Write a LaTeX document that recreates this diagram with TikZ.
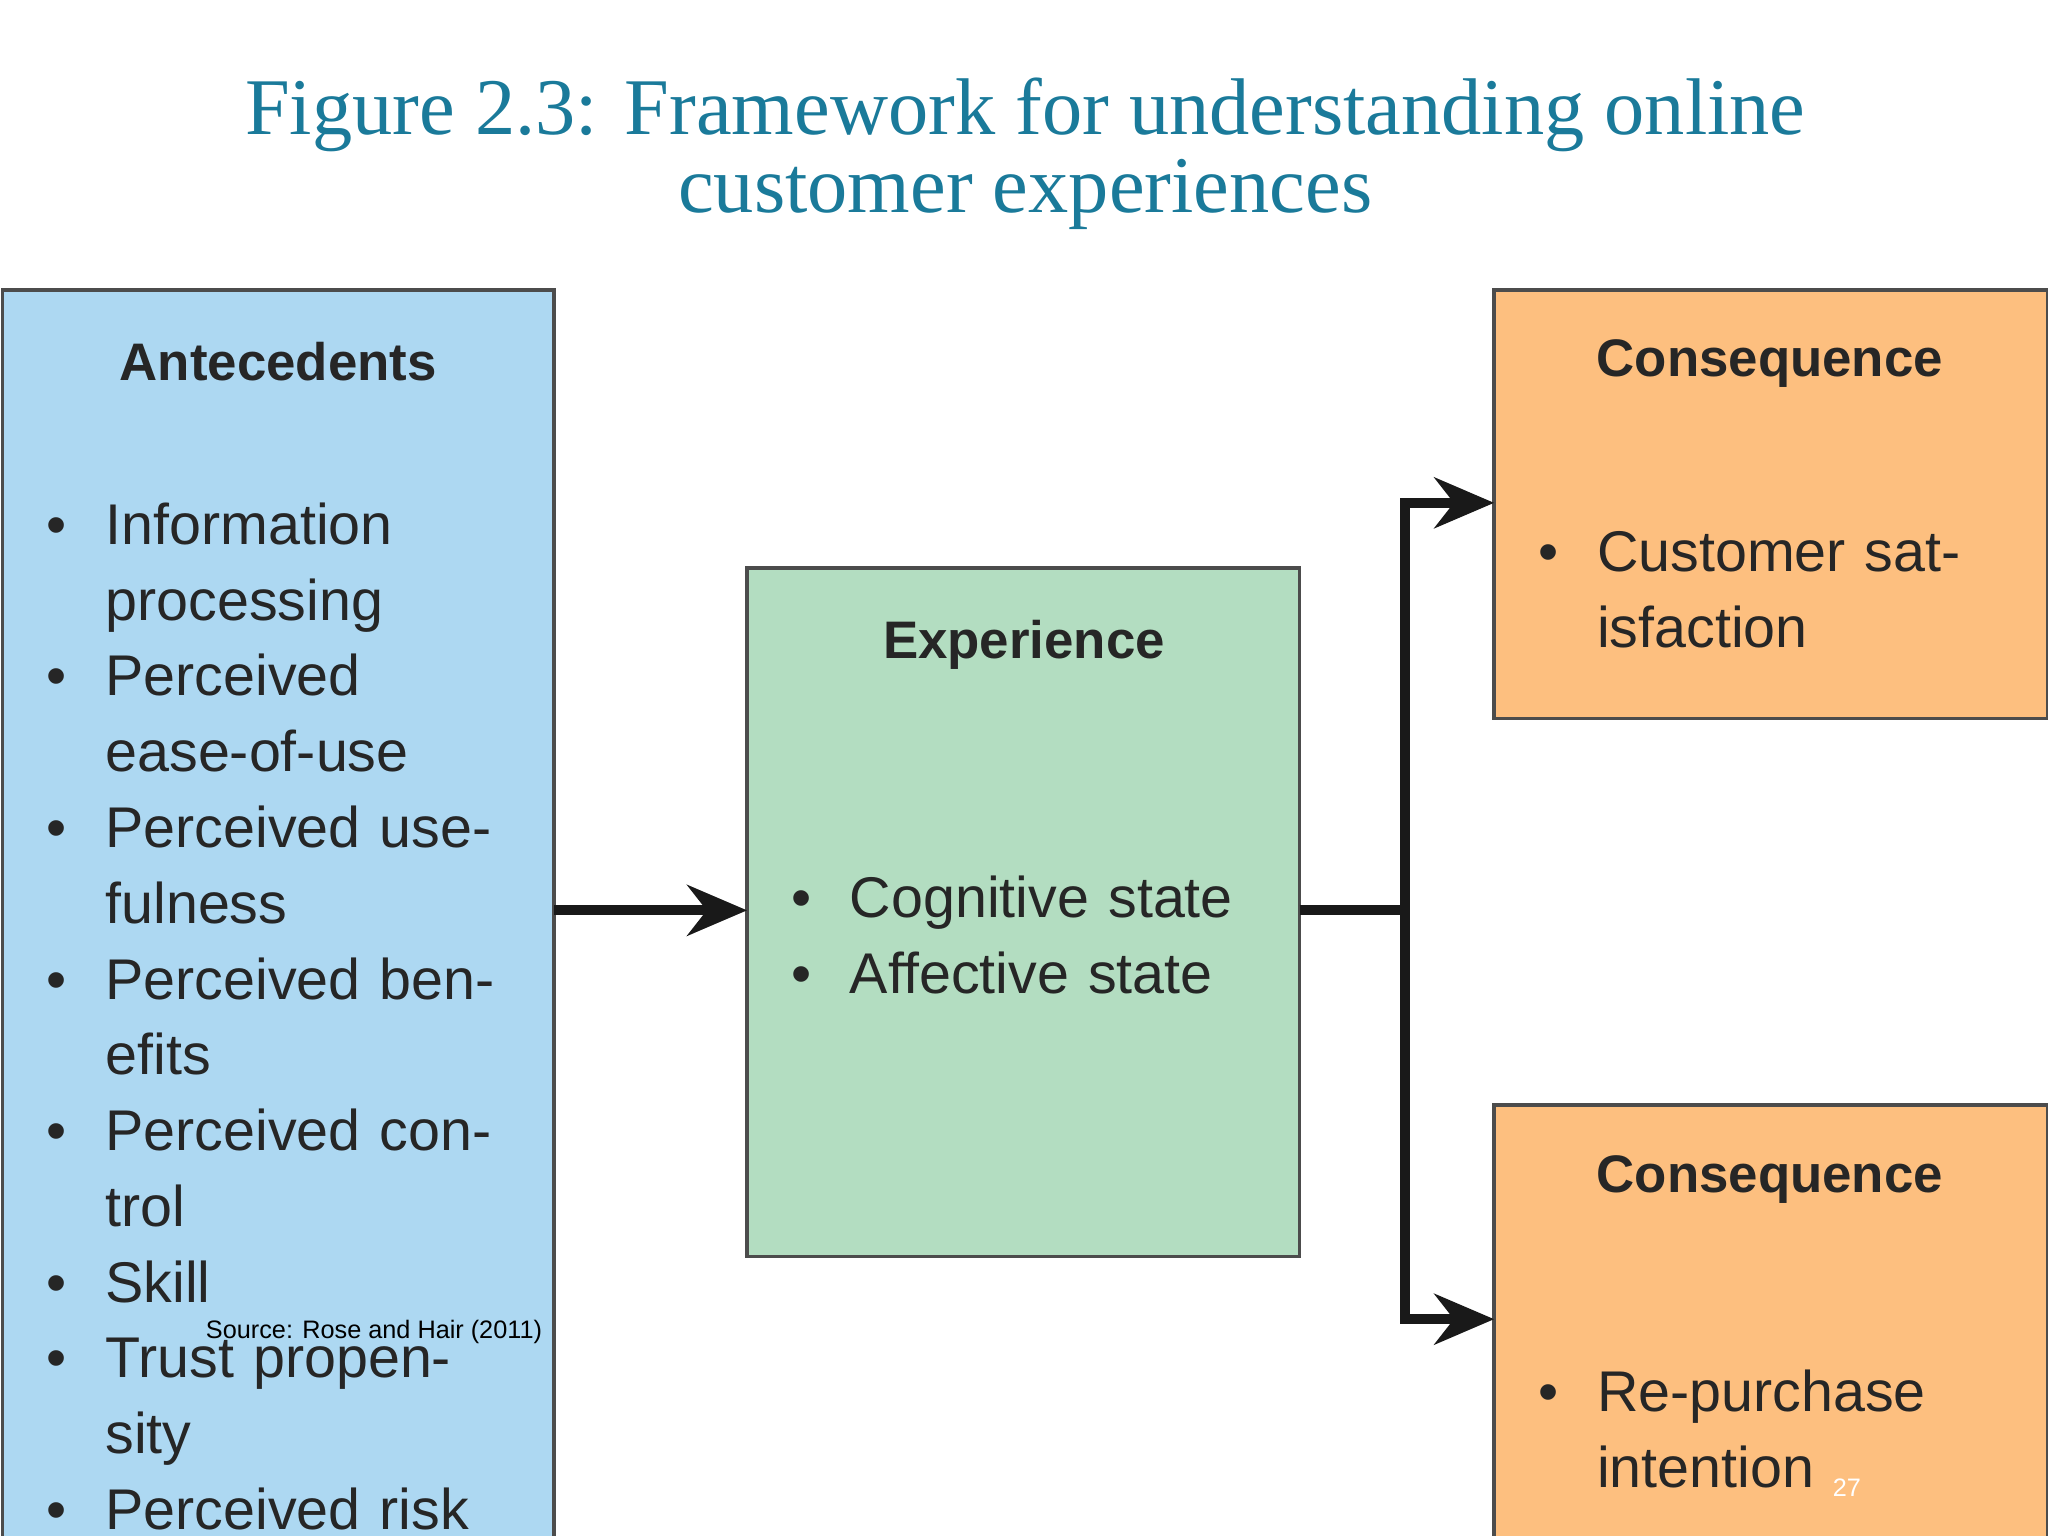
\documentclass[tikz,border=0pt]{standalone}
\usepackage{fontspec}
\setmainfont{Liberation Serif}
\newfontfamily\boxfont{Liberation Sans}
\usetikzlibrary{arrows.meta}
\definecolor{titleteal}{HTML}{1A7A9A}
\definecolor{antblue}{HTML}{ADD8F2}
\definecolor{expgreen}{HTML}{B3DDC1}
\definecolor{conorange}{HTML}{FDBF7F}
\newcommand{\bl}[1]{\par\noindent\hangindent=0.8cm\hangafter=1\makebox[0.8cm][l]{\hspace{0.35cm}\textbullet}#1\par}
\tikzset{
  panel/.style={draw=black!70, line width=0.8pt},
  head/.style={font=\boxfont\bfseries\fontsize{11.5}{14}\selectfont, text=black!85},
  items/.style={anchor=north west, inner sep=0pt, text=black!85,
    font=\boxfont\fontsize{12.5}{16.5}\selectfont, align=left},
  flow/.style={line width=2.2pt, black!90},
  tip/.style={-{Stealth[length=13pt,width=11pt]}}
}
\begin{document}
\begin{tikzpicture}[x=0.01cm,y=-0.01cm]
\useasboundingbox (0,0) rectangle (1568,1176);
% title
\node[text=titleteal, font=\fontsize{17.5}{17}\selectfont, align=center] (title) at (785,118)
  {Figure 2.3: Framework for understanding online\\customer experiences};
% boxes
\fill[antblue] (2,222) rectangle (424,1176);
\draw[black!70, line width=0.8pt] (2,1176) -- (2,222) -- (424,222) -- (424,1176);
\draw[panel, fill=expgreen] (572,435) rectangle (995,962);
\draw[panel, fill=conorange] (1144,222) rectangle (1568,550);
\draw[panel, fill=conorange] (1144,846) rectangle (1568,1180);
\coordinate (antE) at (424,697);
\coordinate (expW) at (572,697);
\coordinate (expE) at (995,697);
\coordinate (split) at (1076,697);
\coordinate (conA) at (1144,385);
\coordinate (conB) at (1144,1010);
% headings
\node[head] (hant) at (213,277) {Antecedents};
\node[head] (hexp) at (784,494) {Experience};
\node[head] (hconA) at (1355,278) {Consequence};
\node[head] (hconB) at (1355,903) {Consequence};
% lists
\node[items, text width=3.9cm] (lant) at (0,358) {%
\bl{Information processing}\bl{Perceived ease-of-use}\bl{Perceived usefulness}%
\bl{Perceived benefits}\bl{Perceived control}\bl{Skill}\bl{Trust propensity}%
\bl{Perceived risk}\bl{Enjoyment}};
\node[items, text width=4cm] (lexp) at (570,644) {\bl{Cognitive state}\bl{Affective state}};
\node[items, text width=3.9cm] (lconA) at (1142,379) {\bl{Customer satisfaction}};
\node[items, text width=3.9cm] (lconB) at (1142,1022) {\bl{Re-purchase intention}};
% connectors
\draw[flow, tip] (antE) -- (expW);
\draw[flow] (expE) -- (split);
\draw[flow, tip] (split) |- (conA);
\draw[flow, tip] (split) |- (conB);
% notes
\node[font=\boxfont\fontsize{5.5}{6}\selectfont, anchor=west, inner sep=0pt] (src) at (157,1020) {Source: Rose and Hair (2011)};
\node[font=\boxfont\fontsize{5.5}{6}\selectfont, text=white, inner sep=0pt] (pg) at (1414,1139) {27};
\end{tikzpicture}
\end{document}
